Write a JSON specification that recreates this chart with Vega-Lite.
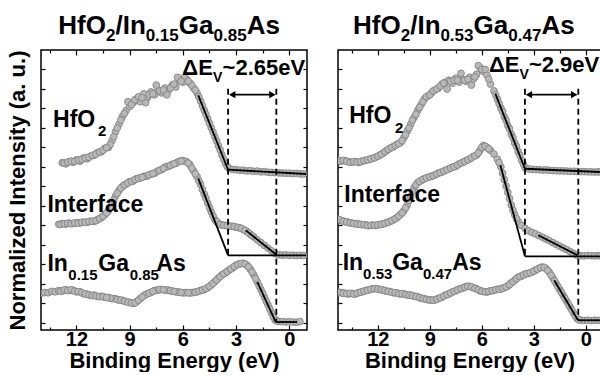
{
  "$schema": "https://vega.github.io/schema/vega-lite/v6.json",
  "padding": {"left": 5, "top": 12, "right": 0, "bottom": 0},
  "bounds": "flush",
  "spacing": 31,
  "datasets": {
    "L": [
      {"e":14.0,"s":1.52},{"e":13.8,"s":1.56},{"e":13.6,"s":1.55},{"e":13.4,"s":1.62},{"e":13.2,"s":1.6},
      {"e":13.0,"i":5.06,"s":1.66},
      {"e":12.8,"h":8.22,"i":5.1,"s":1.64},{"e":12.6,"h":8.16,"i":5.07,"s":1.7},{"e":12.4,"h":8.28,"i":5.12,"s":1.67},
      {"e":12.2,"h":8.24,"i":5.1,"s":1.68},{"e":12.0,"h":8.36,"i":5.14,"s":1.6},{"e":11.8,"h":8.3,"i":5.13,"s":1.6},
      {"e":11.6,"h":8.46,"i":5.17,"s":1.5},{"e":11.4,"h":8.42,"i":5.16,"s":1.48},{"e":11.2,"h":8.56,"i":5.22,"s":1.42},
      {"e":11.0,"h":8.6,"i":5.21,"s":1.43},{"e":10.8,"h":8.74,"i":5.3,"s":1.36},{"e":10.6,"h":8.78,"i":5.4,"s":1.37},
      {"e":10.4,"h":8.96,"i":5.55,"s":1.32},{"e":10.2,"h":9.0,"i":5.75,"s":1.31},{"e":10.0,"h":9.35,"i":6.1,"s":1.25},
      {"e":9.8,"h":9.8,"i":6.5,"s":1.24},{"e":9.6,"h":10.2,"i":6.8,"s":1.18},{"e":9.4,"h":10.6,"i":7.0,"s":1.16},
      {"e":9.2,"h":10.9,"i":7.12,"s":1.09},{"e":9.0,"h":11.1,"i":7.25,"s":1.06},{"e":8.8,"h":11.3,"i":7.28,"s":1.0},
      {"e":8.6,"h":11.5,"i":7.4,"s":1.1},{"e":8.4,"h":11.35,"i":7.44,"s":1.25},{"e":8.2,"h":11.75,"i":7.52,"s":1.4},
      {"e":8.0,"h":11.55,"i":7.54,"s":1.5},{"e":7.8,"h":11.85,"i":7.63,"s":1.57},{"e":7.6,"h":11.7,"i":7.68,"s":1.66},
      {"e":7.4,"h":11.95,"i":7.8,"s":1.69},{"e":7.2,"h":11.8,"i":7.86,"s":1.72},{"e":7.0,"h":12.05,"i":7.99,"s":1.69},
      {"e":6.8,"h":11.95,"i":8.04,"s":1.68},{"e":6.6,"h":12.2,"i":8.13,"s":1.63},{"e":6.4,"h":12.1,"i":8.19,"s":1.6},
      {"e":6.2,"h":12.45,"i":8.29,"s":1.58},{"e":6.0,"h":12.35,"i":8.33,"s":1.55},{"e":5.8,"h":12.5,"i":8.27,"s":1.56},
      {"e":5.6,"h":12.3,"i":8.12,"s":1.54},{"e":5.4,"h":12.05,"i":7.8,"s":1.57},{"e":5.2,"h":11.8,"i":7.5,"s":1.6},
      {"e":5.0,"h":11.38,"i":7.1,"s":1.67},{"e":4.8,"h":10.92,"i":6.62,"s":1.71},{"e":4.6,"h":10.47,"i":6.15,"s":1.81},
      {"e":4.4,"h":10.01,"i":5.7,"s":1.95},{"e":4.2,"h":9.56,"i":5.3,"s":2.12},{"e":4.0,"h":9.1,"i":5.1,"s":2.3},
      {"e":3.8,"h":8.62,"i":5.03,"s":2.46},{"e":3.6,"h":8.18,"i":5.0,"s":2.57},{"e":3.4,"h":7.93,"i":4.97,"s":2.71},
      {"e":3.2,"h":7.87,"i":4.96,"s":2.82},{"e":3.0,"h":7.86,"i":4.91,"s":2.96},{"e":2.8,"h":7.83,"i":4.88,"s":3.03},
      {"e":2.6,"h":7.84,"i":4.8,"s":3.06},{"e":2.4,"h":7.8,"i":4.7,"s":2.97},{"e":2.2,"h":7.81,"i":4.55,"s":2.76},
      {"e":2.0,"h":7.78,"i":4.41,"s":2.46},{"e":1.8,"h":7.79,"i":4.26,"s":2.1},{"e":1.6,"h":7.75,"i":4.12,"s":1.72},
      {"e":1.4,"h":7.76,"i":3.98,"s":1.33},{"e":1.2,"h":7.73,"i":3.84,"s":0.93},{"e":1.0,"h":7.72,"i":3.7,"s":0.53},
      {"e":0.8,"h":7.71,"i":3.56,"s":0.16},{"e":0.6,"h":7.7,"i":3.5,"s":0.08},{"e":0.4,"h":7.69,"i":3.48,"s":0.07},
      {"e":0.2,"h":7.68,"i":3.49,"s":0.05},{"e":0.0,"h":7.68,"i":3.47,"s":0.06},{"e":-0.2,"h":7.66,"i":3.48,"s":0.05},
      {"e":-0.4,"h":7.67,"i":3.46,"s":0.04},{"e":-0.6,"h":7.65,"i":3.47,"s":0.07},{"e":-0.8,"h":7.64,"i":3.46},
      {"e":9.9,"h":9.55,"i":6.3,"s":1.25},{"e":9.7,"h":10.0,"i":6.65,"s":1.2},{"e":9.5,"h":10.4,"i":6.92,"s":1.17},
      {"e":9.3,"h":10.75,"i":7.08,"s":1.12},{"e":9.1,"h":11.35,"i":7.18,"s":1.07},
      {"e":8.1,"h":11.3,"i":7.53,"s":1.45},{"e":7.5,"h":12.2,"i":7.74,"s":1.68},{"e":6.9,"h":11.7,"i":8.02,"s":1.69},
      {"e":6.3,"h":12.6,"i":8.24,"s":1.59},{"e":5.9,"h":12.6,"i":8.3,"s":1.55},
      {"e":5.5,"h":12.2,"i":7.95,"s":1.55},{"e":5.3,"h":11.95,"i":7.65,"s":1.58},{"e":5.1,"h":11.6,"i":7.3,"s":1.63},
      {"e":4.9,"h":11.15,"i":6.85,"s":1.69},{"e":4.7,"h":10.7,"i":6.4,"s":1.76},{"e":4.5,"h":10.24,"i":5.92,"s":1.88},
      {"e":4.3,"h":9.79,"i":5.5,"s":2.03},{"e":4.1,"h":9.34,"i":5.2,"s":2.21},
      {"e":3.9,"h":8.88,"i":5.05,"s":2.38},{"e":3.7,"h":8.4,"i":5.01,"s":2.52},{"e":3.5,"h":8.02,"i":4.99,"s":2.64},
      {"e":3.3,"i":4.96,"s":2.77},{"e":3.1,"i":4.94,"s":2.9},{"e":2.9,"i":4.9,"s":3.0},{"e":2.7,"i":4.85,"s":3.05},
      {"e":2.5,"i":4.75,"s":3.02},{"e":2.3,"i":4.62,"s":2.88},{"e":2.1,"i":4.48,"s":2.62},
      {"e":10.1,"h":9.15,"i":5.9,"s":1.27},
      {"e":12.9,"i":5.05,"s":1.63},{"e":12.7,"h":8.2,"i":5.09,"s":1.69},{"e":12.5,"h":8.24,"i":5.11,"s":1.66},
      {"e":12.3,"h":8.3,"i":5.09,"s":1.7},{"e":12.1,"h":8.29,"i":5.13,"s":1.63},{"e":11.9,"h":8.36,"i":5.12,"s":1.61},
      {"e":11.7,"h":8.39,"i":5.16,"s":1.55},{"e":11.5,"h":8.47,"i":5.17,"s":1.49},{"e":11.3,"h":8.5,"i":5.2,"s":1.44},
      {"e":11.1,"h":8.6,"i":5.22,"s":1.4},{"e":10.9,"h":8.66,"i":5.25,"s":1.39},{"e":10.7,"h":8.77,"i":5.35,"s":1.35},
      {"e":10.5,"h":8.86,"i":5.47,"s":1.35},{"e":10.3,"h":8.99,"i":5.65,"s":1.3},
      {"e":8.9,"h":11.2,"i":7.26,"s":1.02},{"e":8.7,"h":11.45,"i":7.35,"s":1.03},{"e":8.5,"h":11.6,"i":7.42,"s":1.17},
      {"e":8.3,"h":11.55,"i":7.47,"s":1.33},{"e":7.9,"h":11.7,"i":7.6,"s":1.53},{"e":7.7,"h":11.75,"i":7.66,"s":1.62},
      {"e":7.3,"h":11.9,"i":7.83,"s":1.71},{"e":7.1,"h":11.95,"i":7.92,"s":1.7},{"e":6.7,"h":12.05,"i":8.08,"s":1.65},
      {"e":6.5,"h":12.25,"i":8.16,"s":1.62},{"e":6.1,"h":12.4,"i":8.31,"s":1.56},{"e":5.7,"h":12.4,"i":8.2,"s":1.55},
      {"e":1.9,"s":2.28},{"e":1.7,"s":1.9},{"e":1.5,"s":1.52},{"e":1.3,"s":1.12},{"e":1.1,"s":0.72},{"e":0.9,"s":0.32},{"e":0.7,"s":0.1}
    ],
    "R": [
      {"e":14.3,"h":8.35,"i":5.32,"s":1.58},{"e":14.1,"h":8.3,"i":5.25,"s":1.55},{"e":13.9,"h":8.33,"i":5.2,"s":1.53},
      {"e":13.7,"h":8.27,"i":5.16,"s":1.49},{"e":13.5,"h":8.25,"i":5.12,"s":1.51},{"e":13.3,"h":8.28,"i":5.09,"s":1.49},
      {"e":13.1,"h":8.23,"i":5.07,"s":1.56},{"e":12.9,"h":8.3,"i":5.04,"s":1.6},{"e":12.7,"h":8.34,"i":5.03,"s":1.66},
      {"e":12.5,"h":8.39,"i":4.99,"s":1.7},{"e":12.3,"h":8.44,"i":5.02,"s":1.75},{"e":12.1,"h":8.51,"i":5.0,"s":1.76},
      {"e":11.9,"h":8.6,"i":5.05,"s":1.72},{"e":11.7,"h":8.71,"i":5.08,"s":1.69},{"e":11.5,"h":8.84,"i":5.14,"s":1.63},
      {"e":11.3,"h":8.96,"i":5.2,"s":1.61},{"e":11.1,"h":9.04,"i":5.29,"s":1.55},{"e":10.9,"h":9.16,"i":5.4,"s":1.54},
      {"e":10.7,"h":9.25,"i":5.56,"s":1.49},{"e":10.5,"h":9.5,"i":5.75,"s":1.49},{"e":10.3,"h":9.85,"i":6.05,"s":1.44},
      {"e":10.1,"h":10.2,"i":6.5,"s":1.43},{"e":9.9,"h":10.55,"i":6.95,"s":1.37},{"e":9.7,"h":10.9,"i":7.2,"s":1.34},
      {"e":9.5,"h":11.2,"i":7.3,"s":1.27},{"e":9.3,"h":11.5,"i":7.41,"s":1.24},{"e":9.1,"h":11.65,"i":7.47,"s":1.19},
      {"e":8.9,"h":11.8,"i":7.53,"s":1.17},{"e":8.7,"h":11.95,"i":7.59,"s":1.18},{"e":8.5,"h":12.05,"i":7.69,"s":1.26},
      {"e":8.3,"h":12.25,"i":7.74,"s":1.32},{"e":8.1,"h":12.35,"i":7.83,"s":1.43},{"e":7.9,"h":12.45,"i":7.9,"s":1.49},
      {"e":7.7,"h":12.3,"i":7.99,"s":1.59},{"e":7.5,"h":12.55,"i":8.04,"s":1.65},{"e":7.3,"h":12.35,"i":8.16,"s":1.74},
      {"e":7.1,"h":12.5,"i":8.24,"s":1.79},{"e":6.9,"h":12.4,"i":8.33,"s":1.87},{"e":6.7,"h":12.6,"i":8.41,"s":1.88},
      {"e":6.5,"h":12.5,"i":8.53,"s":1.81},{"e":6.3,"h":12.75,"i":8.61,"s":1.75},{"e":6.1,"h":13.1,"i":8.86,"s":1.65},
      {"e":5.9,"h":12.9,"i":9.1,"s":1.61},{"e":5.7,"h":12.7,"i":9.0,"s":1.59},{"e":5.5,"h":12.25,"i":8.85,"s":1.65},
      {"e":5.3,"h":11.9,"i":8.66,"s":1.67},{"e":5.1,"h":11.48,"i":8.4,"s":1.73},{"e":4.9,"h":11.03,"i":8.0,"s":1.74},
      {"e":4.7,"h":10.58,"i":7.35,"s":1.81},{"e":4.5,"h":10.13,"i":6.7,"s":1.89},{"e":4.3,"h":9.68,"i":6.05,"s":2.06},
      {"e":4.1,"h":9.23,"i":5.55,"s":2.19},{"e":3.9,"h":8.79,"i":5.2,"s":2.34},{"e":3.7,"h":8.34,"i":5.0,"s":2.41},
      {"e":3.5,"h":7.96,"i":4.85,"s":2.51},{"e":3.3,"h":7.9,"i":4.73,"s":2.54},{"e":3.1,"h":7.88,"i":4.64,"s":2.61},
      {"e":2.9,"h":7.87,"i":4.57,"s":2.71},{"e":2.7,"h":7.86,"i":4.48,"s":2.8},{"e":2.5,"h":7.84,"i":4.4,"s":2.87},
      {"e":2.3,"h":7.85,"i":4.31,"s":2.79},{"e":2.1,"h":7.83,"i":4.22,"s":2.6},{"e":1.9,"h":7.82,"i":4.12,"s":2.31},
      {"e":1.7,"h":7.81,"i":4.03,"s":2.01},{"e":1.5,"h":7.8,"i":3.94,"s":1.71},{"e":1.3,"h":7.8,"i":3.85,"s":1.41},
      {"e":1.1,"h":7.79,"i":3.76,"s":1.11},{"e":0.9,"h":7.78,"i":3.66,"s":0.81},{"e":0.7,"h":7.78,"i":3.56,"s":0.5},
      {"e":0.5,"h":7.77,"i":3.48,"s":0.22},{"e":0.3,"h":7.76,"i":3.45,"s":0.15},{"e":0.1,"h":7.76,"i":3.44,"s":0.13},
      {"e":-0.1,"h":7.75,"i":3.46,"s":0.14},{"e":-0.3,"h":7.75,"i":3.45,"s":0.12},{"e":-0.5,"h":7.74,"i":3.44,"s":0.14},
      {"e":-0.7,"h":7.75,"i":3.45,"s":0.13},{"e":-0.85,"h":7.74,"i":3.44,"s":0.14},
      {"e":14.2,"h":8.31,"i":5.29,"s":1.57},{"e":14.0,"h":8.34,"i":5.22,"s":1.52},{"e":13.8,"h":8.29,"i":5.18,"s":1.5},
      {"e":13.6,"h":8.24,"i":5.13,"s":1.52},{"e":13.4,"h":8.27,"i":5.1,"s":1.48},{"e":13.2,"h":8.25,"i":5.08,"s":1.53},
      {"e":13.0,"h":8.27,"i":5.05,"s":1.58},{"e":12.8,"h":8.33,"i":5.04,"s":1.63},{"e":12.6,"h":8.36,"i":5.0,"s":1.68},
      {"e":12.4,"h":8.42,"i":5.01,"s":1.73},{"e":12.2,"h":8.47,"i":5.01,"s":1.76},{"e":12.0,"h":8.55,"i":5.03,"s":1.74},
      {"e":11.8,"h":8.65,"i":5.06,"s":1.7},{"e":11.6,"h":8.78,"i":5.11,"s":1.66},{"e":11.4,"h":8.9,"i":5.17,"s":1.62},
      {"e":11.2,"h":9.0,"i":5.25,"s":1.58},{"e":11.0,"h":9.1,"i":5.34,"s":1.55},{"e":10.8,"h":9.2,"i":5.48,"s":1.51},
      {"e":10.6,"h":9.35,"i":5.65,"s":1.5},{"e":10.4,"h":9.65,"i":5.9,"s":1.46},{"e":10.2,"h":10.0,"i":6.28,"s":1.43},
      {"e":10.0,"h":10.4,"i":6.75,"s":1.4},{"e":9.8,"h":10.7,"i":7.08,"s":1.36},{"e":9.6,"h":11.05,"i":7.26,"s":1.3},
      {"e":9.4,"h":11.35,"i":7.36,"s":1.25},{"e":9.2,"h":11.6,"i":7.44,"s":1.21},{"e":9.0,"h":11.7,"i":7.5,"s":1.18},
      {"e":8.8,"h":11.9,"i":7.56,"s":1.17},{"e":8.6,"h":12.0,"i":7.64,"s":1.22},{"e":8.4,"h":12.15,"i":7.72,"s":1.29},
      {"e":8.2,"h":12.3,"i":7.79,"s":1.38},{"e":8.0,"h":12.0,"i":7.86,"s":1.46},{"e":7.8,"h":12.4,"i":7.95,"s":1.54},
      {"e":7.6,"h":12.45,"i":8.01,"s":1.62},{"e":7.4,"h":12.45,"i":8.1,"s":1.7},{"e":7.2,"h":12.8,"i":8.2,"s":1.77},
      {"e":7.0,"h":12.45,"i":8.28,"s":1.83},{"e":6.8,"h":12.5,"i":8.37,"s":1.88},{"e":6.6,"h":12.2,"i":8.47,"s":1.85},
      {"e":6.4,"h":12.62,"i":8.57,"s":1.78},{"e":6.2,"h":13.2,"i":8.72,"s":1.7},{"e":6.0,"h":13.0,"i":9.0,"s":1.63},
      {"e":5.8,"h":13.0,"i":9.06,"s":1.6},{"e":5.6,"h":12.5,"i":8.93,"s":1.62},
      {"e":5.4,"s":1.66},{"e":5.2,"h":11.7,"s":1.7},{"e":5.0,"h":11.25,"i":8.22,"s":1.73},{"e":4.8,"h":10.85,"i":7.68,"s":1.78},
      {"e":4.6,"h":10.4,"i":7.02,"s":1.85},{"e":4.4,"h":9.95,"i":6.38,"s":1.97},{"e":4.2,"h":9.5,"i":5.78,"s":2.12},
      {"e":4.0,"h":9.05,"i":5.35,"s":2.27},{"e":3.8,"h":8.6,"s":2.38},{"e":3.6,"h":8.15,"s":2.46},
      {"e":3.4,"s":2.53},{"e":3.2,"s":2.58},{"e":3.0,"s":2.66},{"e":2.8,"s":2.76},{"e":2.6,"s":2.84},{"e":2.4,"s":2.85},{"e":2.2,"s":2.7},
      {"e":2.0,"s":2.45},{"e":1.8,"s":2.16},{"e":1.6,"s":1.86},{"e":1.4,"s":1.56},{"e":1.2,"s":1.26},{"e":1.0,"s":0.96},
      {"e":0.8,"s":0.66},{"e":0.6,"s":0.36},{"e":0.4,"s":0.16}
    ],
    "Lfit": [
      {"g":"a","e":5.13,"u":11.67},{"g":"a","e":3.45,"u":7.86},
      {"g":"b","e":3.45,"u":7.86},{"g":"b","e":-0.95,"u":7.64},
      {"g":"c","e":5.13,"u":7.4},{"g":"c","e":3.45,"u":3.47},
      {"g":"d","e":3.45,"u":3.47},{"g":"d","e":-0.95,"u":3.47},
      {"g":"e","e":2.45,"u":4.75},{"g":"e","e":0.73,"u":3.5},
      {"g":"f","e":1.8,"u":2.1},{"g":"f","e":0.76,"u":0.05},
      {"g":"h","e":0.76,"u":0.05},{"g":"h","e":-0.44,"u":0.05}
    ],
    "Rfit": [
      {"g":"a","e":5.22,"u":11.76},{"g":"a","e":3.51,"u":7.91},
      {"g":"b","e":3.51,"u":7.91},{"g":"b","e":-0.88,"u":7.74},
      {"g":"c","e":4.93,"u":8.09},{"g":"c","e":3.51,"u":3.42},
      {"g":"d","e":3.51,"u":3.42},{"g":"d","e":-0.88,"u":3.42},
      {"g":"e","e":2.74,"u":4.5},{"g":"e","e":0.47,"u":3.47},
      {"g":"f","e":1.82,"u":2.19},{"g":"f","e":0.45,"u":0.14},
      {"g":"h","e":0.45,"u":0.14},{"g":"h","e":-0.88,"u":0.14}
    ],
    "Ldash": [{"e":3.45,"u":12.01,"u2":3.47},{"e":0.73,"u":12.01,"u2":0.05}],
    "Rdash": [{"e":3.51,"u":12.01,"u2":3.42},{"e":0.43,"u":12.01,"u2":0.14}],
    "Larrow": [{"e":3.22,"e2":0.95,"u":11.71}],
    "Rarrow": [{"e":3.28,"e2":0.665,"u":11.71}],
    "Lhead": [{"e":3.22,"u":11.71,"d":"l"},{"e":0.95,"u":11.71,"d":"r"}],
    "Rhead": [{"e":3.28,"u":11.71,"d":"l"},{"e":0.665,"u":11.71,"d":"r"}],
    "Ltext": [
      {"t":"HfO","e":13.32,"u":10.05,"k":"lab"},{"t":"2","e":10.79,"u":9.59,"k":"labsub"},
      {"t":"Interface","e":13.64,"u":5.69,"k":"lab"},
      {"t":"In","e":13.64,"u":2.67,"k":"lab"},{"t":"0.15","e":12.46,"u":2.2,"k":"labsub"},
      {"t":"Ga","e":10.77,"u":2.67,"k":"lab"},{"t":"0.85","e":9.0,"u":2.2,"k":"labsub"},
      {"t":"As","e":7.5,"u":2.67,"k":"lab"},
      {"t":"HfO","e":13.03,"u":14.82,"k":"ttl"},{"t":"2","e":10.34,"u":14.44,"k":"ttlsub"},
      {"t":"/In","e":9.8,"u":14.82,"k":"ttl"},{"t":"0.15","e":8.1,"u":14.44,"k":"ttlsub"},
      {"t":"Ga","e":6.23,"u":14.82,"k":"ttl"},{"t":"0.85","e":4.27,"u":14.44,"k":"ttlsub"},
      {"t":"As","e":2.4,"u":14.82,"k":"ttl"},
      {"t":"ΔE","e":6.03,"u":12.7,"k":"d"},{"t":"V","e":4.3,"u":12.36,"k":"dsub"},
      {"t":"~2.65eV","e":3.76,"u":12.7,"k":"d"}
    ],
    "Rtext": [
      {"t":"HfO","e":13.65,"u":10.26,"k":"lab"},{"t":"2","e":11.01,"u":9.74,"k":"labsub"},
      {"t":"Interface","e":13.94,"u":6.2,"k":"lab"},
      {"t":"In","e":14.03,"u":2.7,"k":"lab"},{"t":"0.53","e":12.85,"u":2.28,"k":"labsub"},
      {"t":"Ga","e":11.17,"u":2.7,"k":"lab"},{"t":"0.47","e":9.4,"u":2.28,"k":"labsub"},
      {"t":"As","e":7.71,"u":2.7,"k":"lab"},
      {"t":"HfO","e":13.43,"u":14.82,"k":"ttl"},{"t":"2","e":10.68,"u":14.44,"k":"ttlsub"},
      {"t":"/In","e":10.13,"u":14.82,"k":"ttl"},{"t":"0.53","e":8.39,"u":14.44,"k":"ttlsub"},
      {"t":"Ga","e":6.48,"u":14.82,"k":"ttl"},{"t":"0.47","e":4.47,"u":14.44,"k":"ttlsub"},
      {"t":"As","e":2.56,"u":14.82,"k":"ttl"},
      {"t":"ΔE","e":5.59,"u":12.87,"k":"d"},{"t":"V","e":3.82,"u":12.51,"k":"dsub"},
      {"t":"~2.9eV","e":3.28,"u":12.87,"k":"d"}
    ]
  },
  "hconcat": [
    {
      "width": 266, "height": 280,
      "resolve": {"axis": {"x": "independent", "y": "independent"}},
      "layer": [
        {
          "data": {"name": "L"},
          "transform": [{"fold": ["h","i","s"], "as": ["c","u"]}, {"filter": "isValid(datum.u)"}],
          "mark": {"type": "circle", "size": 46, "fill": "#b8b8b8", "stroke": "#858585", "strokeWidth": 0.9, "opacity": 1, "clip": true},
          "encoding": {
            "x": {"field": "e", "type": "quantitative", "scale": {"domain": [-1, 14], "reverse": true, "nice": false, "zero": false},
                  "axis": {"orient": "bottom", "values": [12,9,6,3,0], "tickSize": -5, "labelPadding": 4, "labelFontSize": 20, "title": "Binding Energy (eV)", "titlePadding": 1}},
            "y": {"field": "u", "type": "quantitative", "scale": {"domain": [-0.36, 14], "nice": false, "zero": false},
                  "axis": {"orient": "left", "values": [0,1,2,3,4,5,6,7,8,9,10,11,12,13], "tickSize": -4, "labels": false, "title": "Normalized Intensity (a. u.)", "titlePadding": 11}}
          }
        },
        {
          "data": {"name": "Lfit"},
          "mark": {"type": "line", "color": "black", "strokeWidth": 1.8, "clip": true},
          "encoding": {
            "x": {"field": "e", "type": "quantitative", "scale": {"domain": [-1, 14], "reverse": true, "nice": false, "zero": false},
                  "axis": {"orient": "top", "values": [12,9,6,3,0], "tickSize": -5, "labels": false, "title": null}},
            "y": {"field": "u", "type": "quantitative", "scale": {"domain": [-0.36, 14], "nice": false, "zero": false},
                  "axis": {"orient": "right", "values": [0,1,2,3,4,5,6,7,8,9,10,11,12,13], "tickSize": -4, "labels": false, "title": null}},
            "detail": {"field": "g"}
          }
        },
        {
          "data": {"name": "Ldash"},
          "mark": {"type": "rule", "color": "black", "strokeWidth": 1.8, "strokeDash": [6, 4]},
          "encoding": {
            "x": {"field": "e", "type": "quantitative", "scale": {"domain": [-1, 14], "reverse": true, "nice": false, "zero": false},
                  "axis": {"orient": "bottom", "values": [13.5,10.5,7.5,4.5,1.5], "tickSize": -3, "labels": false, "title": null}},
            "y": {"field": "u", "type": "quantitative", "scale": {"domain": [-0.36, 14], "nice": false, "zero": false}, "axis": null},
            "y2": {"field": "u2"}
          }
        },
        {
          "data": {"name": "Larrow"},
          "mark": {"type": "rule", "color": "black", "strokeWidth": 1.8},
          "encoding": {
            "x": {"field": "e", "type": "quantitative", "scale": {"domain": [-1, 14], "reverse": true, "nice": false, "zero": false},
                  "axis": {"orient": "top", "values": [13.5,10.5,7.5,4.5,1.5], "tickSize": -3, "labels": false, "title": null}},
            "x2": {"field": "e2"},
            "y": {"field": "u", "type": "quantitative", "scale": {"domain": [-0.36, 14], "nice": false, "zero": false}, "axis": null}
          }
        },
        {
          "data": {"name": "Lhead"},
          "mark": {"type": "point", "filled": true, "color": "black", "opacity": 1, "size": 55},
          "encoding": {
            "x": {"field": "e", "type": "quantitative", "scale": {"domain": [-1, 14], "reverse": true, "nice": false, "zero": false}, "axis": null},
            "y": {"field": "u", "type": "quantitative", "scale": {"domain": [-0.36, 14], "nice": false, "zero": false}, "axis": null},
            "shape": {"field": "d", "type": "nominal", "scale": {"domain": ["l","r"], "range": ["triangle-left","triangle-right"]}, "legend": null}
          }
        },
        {
          "data": {"name": "Ltext"},
          "mark": {"type": "text", "align": "left", "baseline": "alphabetic", "color": "black", "font": "Liberation Sans", "fontWeight": "bold"},
          "encoding": {
            "x": {"field": "e", "type": "quantitative", "scale": {"domain": [-1, 14], "reverse": true, "nice": false, "zero": false}, "axis": null},
            "y": {"field": "u", "type": "quantitative", "scale": {"domain": [-0.36, 14], "nice": false, "zero": false}, "axis": null},
            "text": {"field": "t"},
            "size": {"field": "k", "type": "nominal", "scale": {"type": "ordinal", "domain": ["lab","labsub","ttl","ttlsub","d","dsub"], "range": [23,15,26,17,22,14]}, "legend": null}
          }
        }
      ]
    },
    {
      "width": 263, "height": 280,
      "resolve": {"axis": {"x": "independent", "y": "independent"}},
      "layer": [
        {
          "data": {"name": "R"},
          "transform": [{"fold": ["h","i","s"], "as": ["c","u"]}, {"filter": "isValid(datum.u)"}],
          "mark": {"type": "circle", "size": 46, "fill": "#b8b8b8", "stroke": "#858585", "strokeWidth": 0.9, "opacity": 1, "clip": true},
          "encoding": {
            "x": {"field": "e", "type": "quantitative", "scale": {"domain": [-0.88, 14.3], "reverse": true, "nice": false, "zero": false},
                  "axis": {"orient": "bottom", "values": [12,9,6,3,0], "tickSize": -5, "labelPadding": 4, "labelFontSize": 20, "title": "Binding Energy (eV)", "titlePadding": 1}},
            "y": {"field": "u", "type": "quantitative", "scale": {"domain": [-0.36, 14], "nice": false, "zero": false},
                  "axis": {"orient": "left", "values": [0,1,2,3,4,5,6,7,8,9,10,11,12,13], "tickSize": -4, "labels": false, "title": null}}
          }
        },
        {
          "data": {"name": "Rfit"},
          "mark": {"type": "line", "color": "black", "strokeWidth": 1.8, "clip": true},
          "encoding": {
            "x": {"field": "e", "type": "quantitative", "scale": {"domain": [-0.88, 14.3], "reverse": true, "nice": false, "zero": false},
                  "axis": {"orient": "top", "values": [12,9,6,3,0], "tickSize": -5, "labels": false, "title": null}},
            "y": {"field": "u", "type": "quantitative", "scale": {"domain": [-0.36, 14], "nice": false, "zero": false}, "axis": null},
            "detail": {"field": "g"}
          }
        },
        {
          "data": {"name": "Rdash"},
          "mark": {"type": "rule", "color": "black", "strokeWidth": 1.8, "strokeDash": [6, 4]},
          "encoding": {
            "x": {"field": "e", "type": "quantitative", "scale": {"domain": [-0.88, 14.3], "reverse": true, "nice": false, "zero": false},
                  "axis": {"orient": "bottom", "values": [13.5,10.5,7.5,4.5,1.5], "tickSize": -3, "labels": false, "title": null}},
            "y": {"field": "u", "type": "quantitative", "scale": {"domain": [-0.36, 14], "nice": false, "zero": false}, "axis": null},
            "y2": {"field": "u2"}
          }
        },
        {
          "data": {"name": "Rarrow"},
          "mark": {"type": "rule", "color": "black", "strokeWidth": 1.8},
          "encoding": {
            "x": {"field": "e", "type": "quantitative", "scale": {"domain": [-0.88, 14.3], "reverse": true, "nice": false, "zero": false},
                  "axis": {"orient": "top", "values": [13.5,10.5,7.5,4.5,1.5], "tickSize": -3, "labels": false, "title": null}},
            "x2": {"field": "e2"},
            "y": {"field": "u", "type": "quantitative", "scale": {"domain": [-0.36, 14], "nice": false, "zero": false}, "axis": null}
          }
        },
        {
          "data": {"name": "Rhead"},
          "mark": {"type": "point", "filled": true, "color": "black", "opacity": 1, "size": 55},
          "encoding": {
            "x": {"field": "e", "type": "quantitative", "scale": {"domain": [-0.88, 14.3], "reverse": true, "nice": false, "zero": false}, "axis": null},
            "y": {"field": "u", "type": "quantitative", "scale": {"domain": [-0.36, 14], "nice": false, "zero": false}, "axis": null},
            "shape": {"field": "d", "type": "nominal", "scale": {"domain": ["l","r"], "range": ["triangle-left","triangle-right"]}, "legend": null}
          }
        },
        {
          "data": {"name": "Rtext"},
          "mark": {"type": "text", "align": "left", "baseline": "alphabetic", "color": "black", "font": "Liberation Sans", "fontWeight": "bold"},
          "encoding": {
            "x": {"field": "e", "type": "quantitative", "scale": {"domain": [-0.88, 14.3], "reverse": true, "nice": false, "zero": false}, "axis": null},
            "y": {"field": "u", "type": "quantitative", "scale": {"domain": [-0.36, 14], "nice": false, "zero": false}, "axis": null},
            "text": {"field": "t"},
            "size": {"field": "k", "type": "nominal", "scale": {"type": "ordinal", "domain": ["lab","labsub","ttl","ttlsub","d","dsub"], "range": [23,15,26,17,22,14]}, "legend": null}
          }
        }
      ]
    }
  ],
  "config": {
    "view": {"stroke": "black", "strokeWidth": 1.5},
    "axis": {
      "domain": false, "grid": false, "tickColor": "black", "tickWidth": 1.2,
      "labelFont": "Liberation Sans", "labelFontWeight": "bold", "labelFontSize": 21, "labelColor": "black",
      "titleFont": "Liberation Sans", "titleFontWeight": "bold", "titleFontSize": 22, "titleColor": "black"
    }
  }
}
